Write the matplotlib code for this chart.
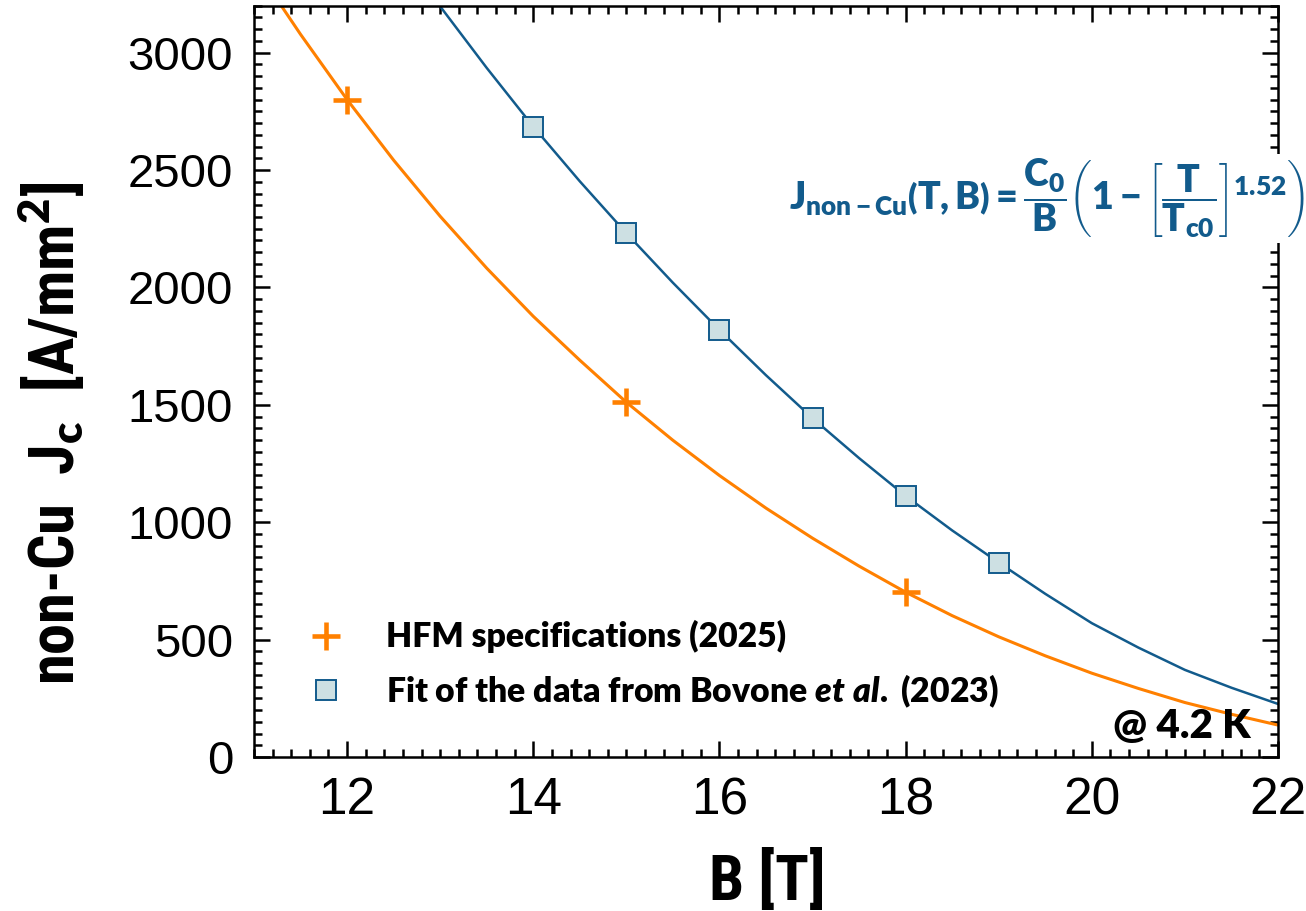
import matplotlib
matplotlib.use('Agg')
import matplotlib.pyplot as plt
from matplotlib import font_manager
from matplotlib.ticker import MultipleLocator

# HFM specification points
hfm_B = [12, 15, 18]
hfm_J = [2800, 1510, 702]

# Bovone et al. (2023) fit points
bov_B = [14, 15, 16, 17, 18, 19]
bov_J = [2685, 2231, 1819, 1443, 1112, 828]

# curves
hfm_curve_B = [11.25, 11.5, 12, 12.5, 13, 13.5, 14, 14.5, 15, 15.5, 16, 16.5,
               17, 17.5, 18, 18.5, 19, 19.5, 20, 20.5, 21, 21.5, 22]
hfm_curve_J = [3225, 3078, 2800, 2542, 2303, 2082, 1877, 1690, 1511, 1349, 1199, 1060,
               932, 813, 702, 602, 512, 431, 357, 292, 232, 182, 136]
bov_curve_B = [13, 13.5, 14, 14.5, 15, 15.5, 16, 16.5, 17, 17.5, 18, 18.5,
               19, 19.5, 20, 20.5, 21, 21.5, 22]
bov_curve_J = [3197, 2935, 2685, 2452, 2231, 2020, 1819, 1626, 1443, 1273, 1112, 965,
               828, 695, 570, 466, 371, 295, 226]

ORANGE = '#ff8000'
BLUE = '#125b8c'

avail = {f.name for f in font_manager.fontManager.ttflist}


def pick(cands):
    return [c for c in cands if c in avail][:1] + ['DejaVu Sans']


NARROW = pick(['Liberation Sans Narrow', 'Noto Sans Condensed', 'Roboto Condensed',
               'Open Sans Condensed', 'DejaVu Sans Condensed', 'Roboto'])
CALIBRI = pick(['Lato', 'Open Sans'])
HEAVY = 'heavy'

plt.rcParams['font.family'] = ['Liberation Sans', 'DejaVu Sans']
plt.rcParams['mathtext.fontset'] = 'custom'
plt.rcParams['mathtext.rm'] = CALIBRI[0] + ':' + HEAVY
plt.rcParams['mathtext.bf'] = CALIBRI[0] + ':' + HEAVY
plt.rcParams['mathtext.it'] = CALIBRI[0] + ':italic:' + HEAVY
plt.rcParams['mathtext.default'] = 'rm'

fig = plt.figure(figsize=(13.06, 9.11), dpi=100)
ax = fig.add_axes([254 / 1306, 154 / 911, 1024 / 1306, 751.3 / 911])

ax.plot(hfm_curve_B, hfm_curve_J, color=ORANGE, lw=2.2, zorder=2)
ax.plot(bov_curve_B, bov_curve_J, color=BLUE, lw=1.8, zorder=2)
h1, = ax.plot(hfm_B, hfm_J, ls='none', marker='+', ms=19.5, mew=3.3,
              color=ORANGE, zorder=3, label='HFM specifications (2025)')
h2, = ax.plot(bov_B, bov_J, ls='none', marker='s', ms=14.8, mew=1.4,
              mfc='#cde0e3', mec=BLUE, zorder=3,
              label=r'Fit of the data from Bovone $\mathit{et\ al.}$ (2023)')

ax.set_xlim(11, 22)
ax.set_ylim(0, 3200)
ax.xaxis.set_major_locator(MultipleLocator(2))
ax.xaxis.set_minor_locator(MultipleLocator(0.2))
ax.yaxis.set_major_locator(MultipleLocator(500))
ax.yaxis.set_minor_locator(MultipleLocator(50))

for s in ax.spines.values():
    s.set_linewidth(1.8)
ax.tick_params(which='both', direction='in', top=True, right=True, width=1.8)
ax.tick_params(which='major', length=11.5)
ax.tick_params(which='minor', length=5.8)
ax.tick_params(axis='x', which='major', labelsize=37, pad=14)
ax.tick_params(axis='y', which='major', labelsize=34, pad=15)

leg = ax.legend(handles=[h1, h2], loc='upper left', bbox_to_anchor=(0.0534, 0.182),
                frameon=False, borderpad=0, borderaxespad=0, handlelength=1.0,
                handletextpad=1.28, labelspacing=0.56,
                prop=dict(family=CALIBRI, weight=HEAVY, size=24.3))

ax.text(0.973, 0.025, '@ 4.2 K', transform=ax.transAxes, ha='right', va='baseline',
        family=CALIBRI, weight=HEAVY, size=29)

eq = (r'$J_{non-Cu}\left(T,B\right)=\dfrac{C_0}{B}'
      r'\left(1-\left[\dfrac{T}{T_{c0}}\right]^{1.52}\right)$')
ax.text(0.774, 0.744, eq, transform=ax.transAxes, ha='center', va='center',
        color=BLUE, size=27, zorder=5, clip_on=False,
        bbox=dict(facecolor='white', edgecolor='none', pad=2))

fig.text(767 / 1306, 11 / 911, 'B [T]', ha='center', va='baseline',
         family=NARROW, weight='bold', size=45)
fig.text(52 / 1306, 1 - 433 / 911, r'non-Cu  J$_\mathrm{c}$  [A/mm$^\mathrm{2}$]',
         rotation=90, ha='center', va='center', family=NARROW, weight='bold', size=45)

fig.savefig('out.png', dpi=100)
